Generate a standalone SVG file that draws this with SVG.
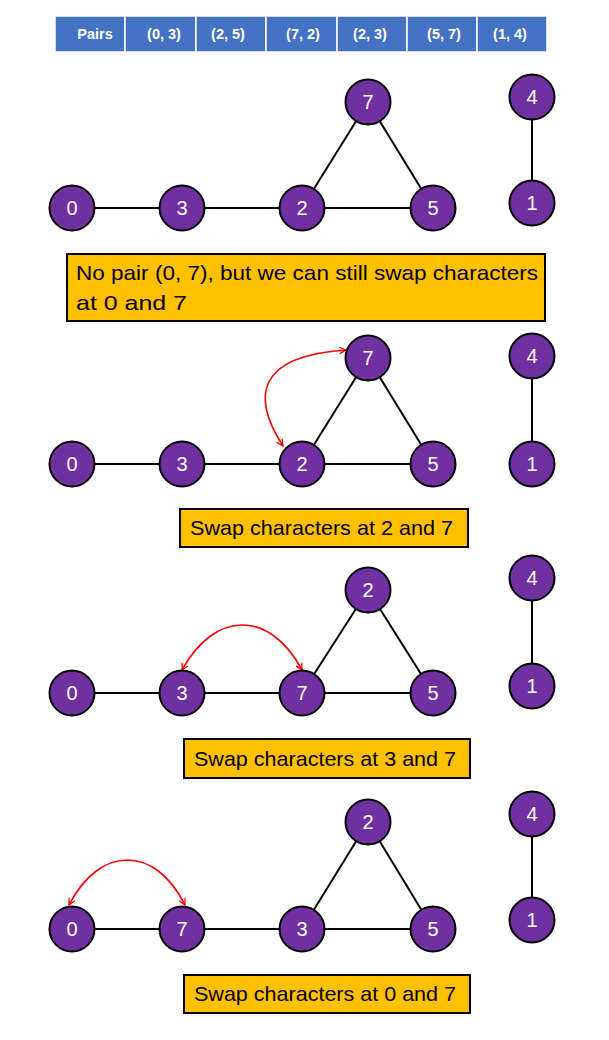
<svg xmlns="http://www.w3.org/2000/svg" width="609" height="1040" viewBox="0 0 609 1040">
<defs>
<style>
.n circle{fill:#7030A0;stroke:#000;stroke-width:2}
.n text{fill:#fff;font-family:"Liberation Sans",Arial,sans-serif;font-size:20px;text-anchor:middle;dominant-baseline:central}
.e line{stroke:#000;stroke-width:2}
.sw{fill:none;stroke:#FF0000;stroke-width:1.6;marker-start:url(#ah);marker-end:url(#ah)}
.box{fill:#FFC000;stroke:#000;stroke-width:2}
.bt{font-family:"Liberation Sans",Arial,sans-serif;font-size:21px;fill:#000}
.th rect{fill:#4472C4;stroke:#fff;stroke-width:1.5}
.th text{fill:#fff;font-family:"Liberation Sans",Arial,sans-serif;font-size:14.5px;font-weight:bold;text-anchor:middle;dominant-baseline:central}
</style>
<marker id="ah" viewBox="0 0 10 10" refX="9" refY="5" markerWidth="8" markerHeight="8" orient="auto-start-reverse" markerUnits="userSpaceOnUse">
<path d="M1,1 L9,5 L1,9" fill="none" stroke="#FF0000" stroke-width="1.6"/>
</marker>
</defs>
<rect width="609" height="1040" fill="#fff"/>
<g id="table" class="th">
<rect x="55" y="16" width="70" height="36"/><text x="95" y="34">Pairs</text>
<rect x="125" y="16" width="71" height="36"/><text x="164" y="34">(0, 3)</text>
<rect x="196" y="16" width="70" height="36"/><text x="228" y="34">(2, 5)</text>
<rect x="266" y="16" width="71" height="36"/><text x="303" y="34">(7, 2)</text>
<rect x="337" y="16" width="70" height="36"/><text x="370" y="34">(2, 3)</text>
<rect x="407" y="16" width="70" height="36"/><text x="444" y="34">(5, 7)</text>
<rect x="477" y="16" width="70" height="36"/><text x="510" y="34">(1, 4)</text>
</g>
<g id="connectors" class="e">
<line x1="72" y1="208" x2="182" y2="208"/><line x1="182" y1="208" x2="302" y2="208"/><line x1="302" y1="208" x2="433" y2="208"/><line x1="302" y1="208" x2="368" y2="102"/><line x1="368" y1="102" x2="433" y2="208"/><line x1="532" y1="97" x2="532" y2="203"/>
<line x1="72" y1="464" x2="182" y2="464"/><line x1="182" y1="464" x2="302" y2="464"/><line x1="302" y1="464" x2="433" y2="464"/><line x1="302" y1="464" x2="368" y2="358"/><line x1="368" y1="358" x2="433" y2="464"/><line x1="532" y1="356" x2="532" y2="464"/>
<line x1="72" y1="693" x2="182" y2="693"/><line x1="182" y1="693" x2="302" y2="693"/><line x1="302" y1="693" x2="433" y2="693"/><line x1="302" y1="693" x2="368" y2="590"/><line x1="368" y1="590" x2="433" y2="693"/><line x1="532" y1="578" x2="532" y2="686"/>
<line x1="72" y1="929" x2="182" y2="929"/><line x1="182" y1="929" x2="302" y2="929"/><line x1="302" y1="929" x2="433" y2="929"/><line x1="302" y1="929" x2="368" y2="822"/><line x1="368" y1="822" x2="433" y2="929"/><line x1="532" y1="814" x2="532" y2="920"/>
<path class="sw" d="M283,446 C252,398 255,356 346,350"/>
<path class="sw" d="M182,670 C215,610 270,610 302,670"/>
<path class="sw" d="M69,905 C100,845 155,845 185,905"/>
</g>
<g id="p1">
<g id="p1n0" class="n"><circle cx="72" cy="208" r="22.5"/><text x="72" y="208">0</text></g>
<g id="p1n3" class="n"><circle cx="182" cy="208" r="22.5"/><text x="182" y="208">3</text></g>
<g id="p1n2" class="n"><circle cx="302" cy="208" r="22.5"/><text x="302" y="208">2</text></g>
<g id="p1n5" class="n"><circle cx="433" cy="208" r="22.5"/><text x="433" y="208">5</text></g>
<g id="p1n7" class="n"><circle cx="368" cy="102" r="22.5"/><text x="368" y="102">7</text></g>
<g id="p1n4" class="n"><circle cx="532" cy="97" r="22.5"/><text x="532" y="97">4</text></g>
<g id="p1n1" class="n"><circle cx="532" cy="203" r="22.5"/><text x="532" y="203">1</text></g>
</g>
<g id="note1"><rect class="box" x="67" y="254" width="478" height="67"/>
<text class="bt" x="76" y="280" textLength="462" lengthAdjust="spacingAndGlyphs">No pair (0, 7), but we can still swap characters</text>
<text class="bt" x="76" y="310" textLength="111" lengthAdjust="spacingAndGlyphs">at 0 and 7</text></g>
<g id="p2">
<g id="p2n0" class="n"><circle cx="72" cy="464" r="22.5"/><text x="72" y="464">0</text></g>
<g id="p2n3" class="n"><circle cx="182" cy="464" r="22.5"/><text x="182" y="464">3</text></g>
<g id="p2n2" class="n"><circle cx="302" cy="464" r="22.5"/><text x="302" y="464">2</text></g>
<g id="p2n5" class="n"><circle cx="433" cy="464" r="22.5"/><text x="433" y="464">5</text></g>
<g id="p2n7" class="n"><circle cx="368" cy="358" r="22.5"/><text x="368" y="358">7</text></g>
<g id="p2n4" class="n"><circle cx="532" cy="356" r="22.5"/><text x="532" y="356">4</text></g>
<g id="p2n1" class="n"><circle cx="532" cy="464" r="22.5"/><text x="532" y="464">1</text></g>
</g>
<g id="note2"><rect class="box" x="180" y="509" width="288" height="38"/>
<text class="bt" x="190" y="535" textLength="263" lengthAdjust="spacingAndGlyphs">Swap characters at 2 and 7</text></g>
<g id="p3">
<g id="p3n0" class="n"><circle cx="72" cy="693" r="22.5"/><text x="72" y="693">0</text></g>
<g id="p3n3" class="n"><circle cx="182" cy="693" r="22.5"/><text x="182" y="693">3</text></g>
<g id="p3n7" class="n"><circle cx="302" cy="693" r="22.5"/><text x="302" y="693">7</text></g>
<g id="p3n5" class="n"><circle cx="433" cy="693" r="22.5"/><text x="433" y="693">5</text></g>
<g id="p3n2" class="n"><circle cx="368" cy="590" r="22.5"/><text x="368" y="590">2</text></g>
<g id="p3n4" class="n"><circle cx="532" cy="578" r="22.5"/><text x="532" y="578">4</text></g>
<g id="p3n1" class="n"><circle cx="532" cy="686" r="22.5"/><text x="532" y="686">1</text></g>
</g>
<g id="note3"><rect class="box" x="184" y="739" width="286" height="39"/>
<text class="bt" x="194" y="766" textLength="262" lengthAdjust="spacingAndGlyphs">Swap characters at 3 and 7</text></g>
<g id="p4">
<g id="p4n0" class="n"><circle cx="72" cy="929" r="22.5"/><text x="72" y="929">0</text></g>
<g id="p4n7" class="n"><circle cx="182" cy="929" r="22.5"/><text x="182" y="929">7</text></g>
<g id="p4n3" class="n"><circle cx="302" cy="929" r="22.5"/><text x="302" y="929">3</text></g>
<g id="p4n5" class="n"><circle cx="433" cy="929" r="22.5"/><text x="433" y="929">5</text></g>
<g id="p4n2" class="n"><circle cx="368" cy="822" r="22.5"/><text x="368" y="822">2</text></g>
<g id="p4n4" class="n"><circle cx="532" cy="814" r="22.5"/><text x="532" y="814">4</text></g>
<g id="p4n1" class="n"><circle cx="532" cy="920" r="22.5"/><text x="532" y="920">1</text></g>
</g>
<g id="note4"><rect class="box" x="184" y="975" width="286" height="38"/>
<text class="bt" x="194" y="1001" textLength="262" lengthAdjust="spacingAndGlyphs">Swap characters at 0 and 7</text></g>
</svg>
